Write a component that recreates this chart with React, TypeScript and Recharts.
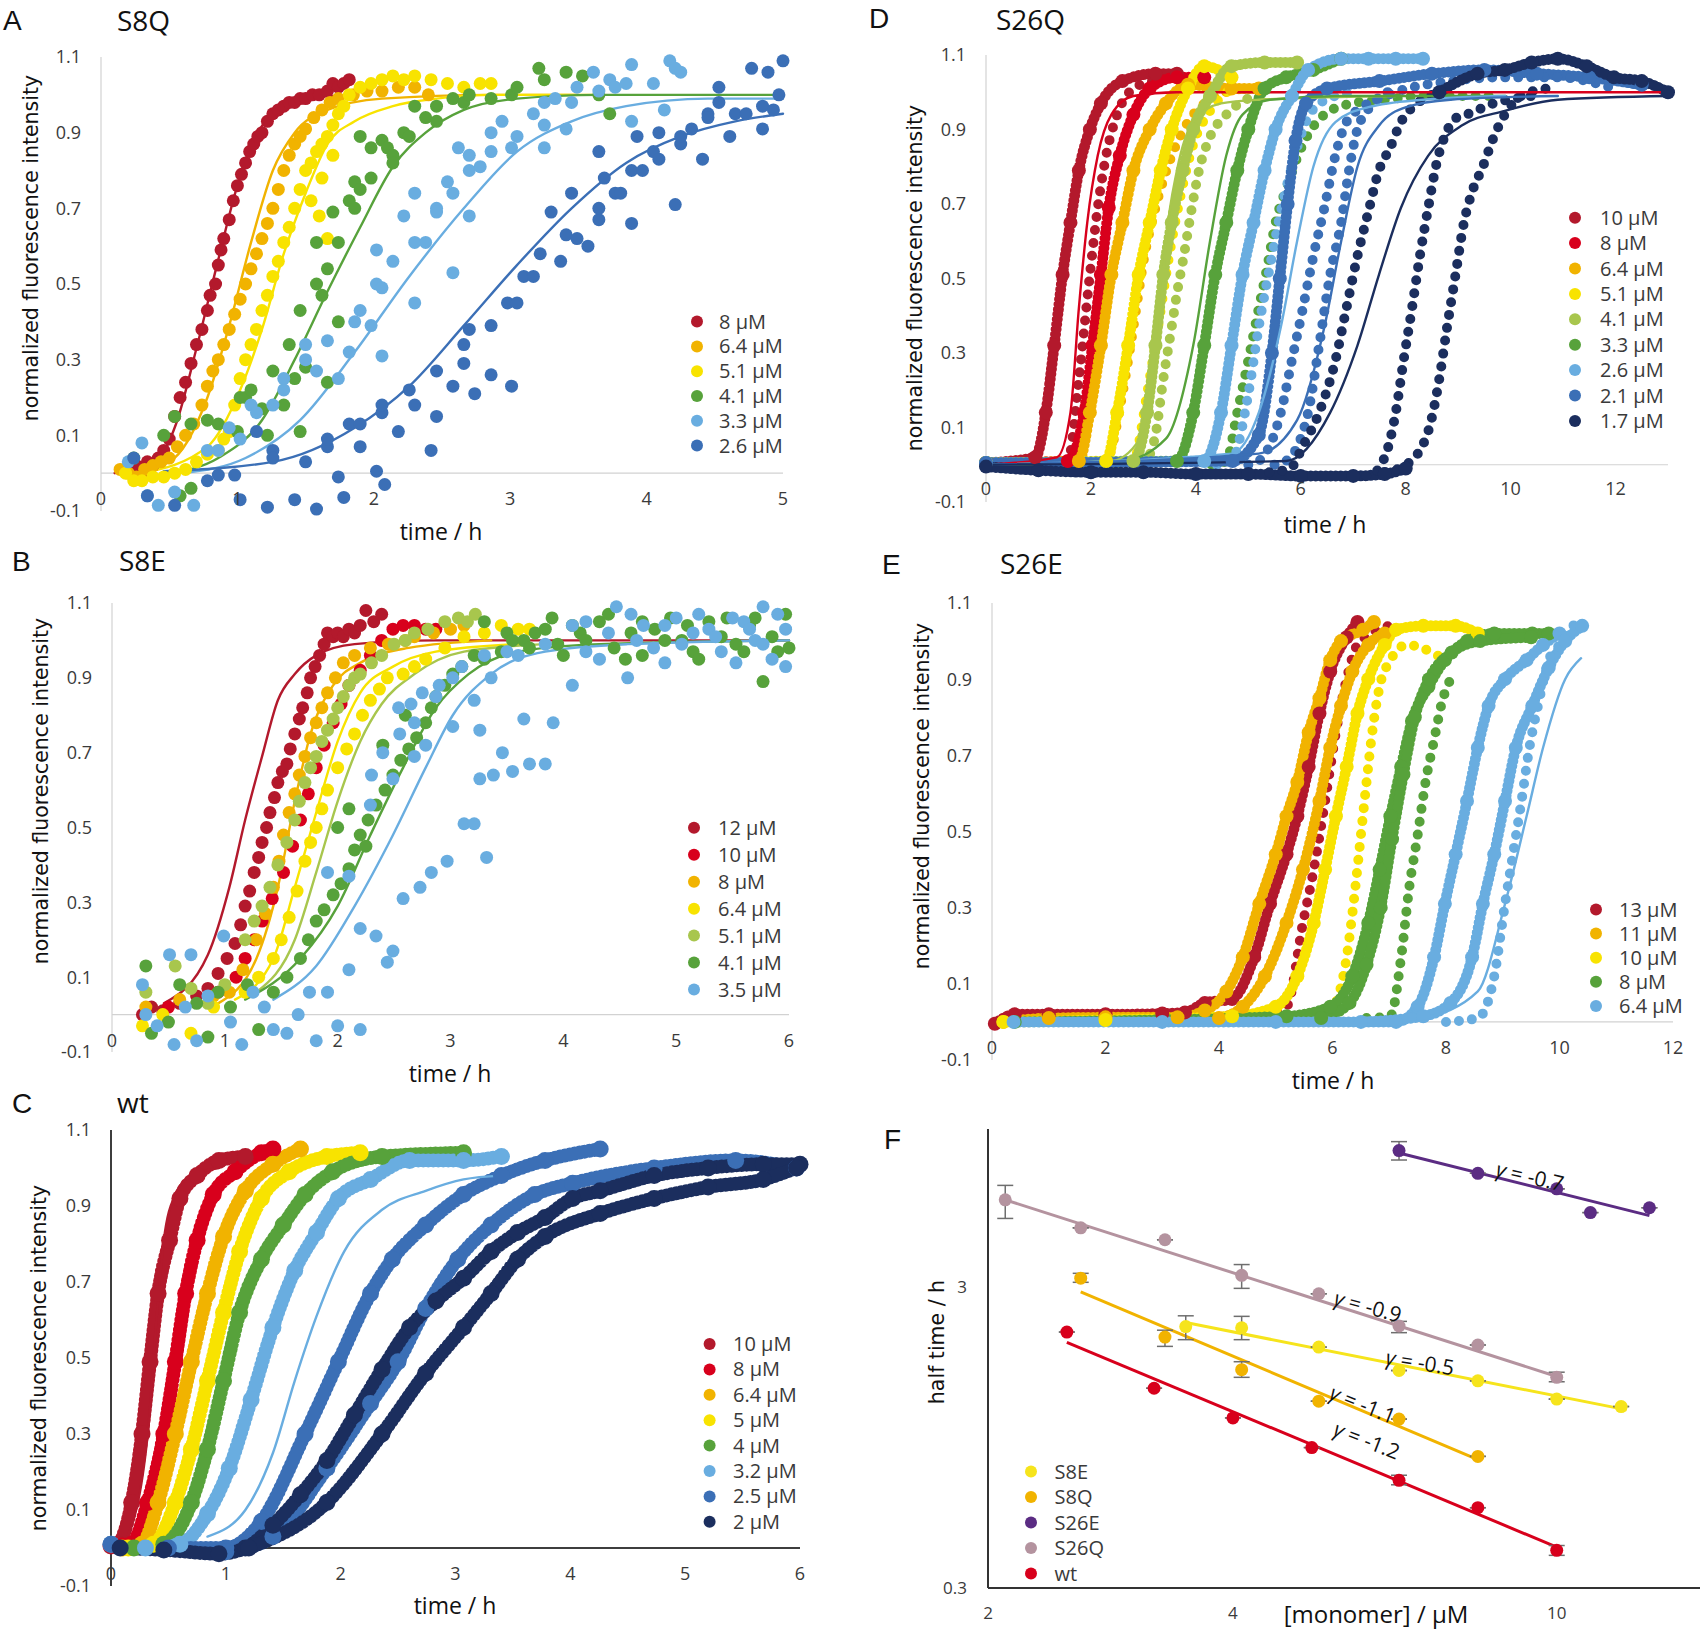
import React from 'react'
import { ComposedChart, Scatter, Line, XAxis, YAxis, ReferenceLine, ErrorBar } from 'recharts'

type Pt = [number, number]

const DRED = '#b3192c'
const RED = '#d8001c'
const ORANGE = '#f1b300'
const YELLOW = '#f8e300'
const LIME = '#a8c64d'
const GREEN = '#57a23b'
const SKY = '#69ade0'
const BLUE = '#3b6fb6'
const NAVY = '#1b2e5e'

const SANS = '"Open Sans", "Noto Sans", sans-serif'
const WIDE = '"DejaVu Sans", Verdana, sans-serif'

const Y_TICKS = [-0.1, 0.1, 0.3, 0.5, 0.7, 0.9, 1.1]

// ---------- A: S8Q ----------
const A_NAMES = ['8 μM', '6.4 μM', '5.1 μM', '4.1 μM', '3.3 μM', '2.6 μM']
const A_COLORS = [DRED, ORANGE, YELLOW, GREEN, SKY, BLUE]
const A8: Pt[] = [[0.18,0.01],[0.22,0],[0.26,0.02],[0.3,-0.01],[0.34,0.03],[0.38,0.02],[0.42,0.04],[0.46,0.06],[0.5,0.09],[0.54,0.15],[0.58,0.2],[0.62,0.24],[0.66,0.29],[0.7,0.34],[0.74,0.38],[0.78,0.43],[0.8,0.47],[0.84,0.5],[0.86,0.55],[0.88,0.59],[0.9,0.62],[0.94,0.67],[0.97,0.72],[1,0.76],[1.03,0.79],[1.06,0.82],[1.09,0.85],[1.12,0.87],[1.15,0.89],[1.18,0.9],[1.22,0.93],[1.26,0.95],[1.3,0.96],[1.34,0.97],[1.38,0.98],[1.42,0.98],[1.46,0.99],[1.5,0.99],[1.55,1],[1.6,1],[1.66,1.01],[1.7,1.03],[1.74,1.02],[1.78,1.03],[1.82,1.04]]
const A64: Pt[] = [[0.14,0.01],[0.2,0],[0.26,-0.01],[0.32,0.01],[0.38,0.02],[0.44,0.03],[0.5,0.04],[0.56,0.07],[0.62,0.1],[0.68,0.13],[0.74,0.18],[0.78,0.23],[0.82,0.27],[0.86,0.3],[0.9,0.34],[0.94,0.38],[0.98,0.42],[1.02,0.46],[1.06,0.5],[1.1,0.54],[1.14,0.58],[1.18,0.62],[1.22,0.66],[1.26,0.7],[1.3,0.75],[1.34,0.8],[1.38,0.84],[1.42,0.87],[1.46,0.89],[1.5,0.91],[1.56,0.94],[1.62,0.96],[1.68,0.98],[1.74,0.99],[1.85,1],[1.95,1.01],[2.06,1.01],[2.18,1.02],[2.3,1.02],[2.4,1]]
const A51: Pt[] = [[0.18,0],[0.24,-0.02],[0.3,-0.02],[0.38,-0.01],[0.46,-0.01],[0.54,0],[0.62,0.01],[0.7,0.03],[0.78,0.05],[0.86,0.06],[0.9,0.09],[0.94,0.11],[0.98,0.18],[1.02,0.25],[1.06,0.3],[1.1,0.34],[1.14,0.38],[1.18,0.43],[1.22,0.47],[1.26,0.52],[1.3,0.56],[1.34,0.61],[1.38,0.65],[1.42,0.7],[1.46,0.75],[1.5,0.8],[1.54,0.72],[1.54,0.82],[1.58,0.85],[1.6,0.68],[1.62,0.78],[1.62,0.87],[1.66,0.62],[1.66,0.89],[1.7,0.84],[1.7,0.92],[1.74,0.95],[1.78,0.97],[1.82,1],[1.9,1.02],[1.98,1.03],[2.06,1.04],[2.14,1.05],[2.22,1.04],[2.3,1.05],[2.42,1.04],[2.54,1.03],[2.66,1.02],[2.78,1.03],[2.86,1.03]]
const A41: Pt[] = [[0.24,0.04],[0.46,0.1],[0.54,0.15],[0.58,-0.06],[0.66,0.13],[0.66,-0.04],[0.78,0.14],[0.86,0.13],[1,0.11],[1.02,0.2],[1.06,0.2],[1.1,0.22],[1.18,0.17],[1.22,0.1],[1.26,0.27],[1.34,0.18],[1.38,0.34],[1.42,0.25],[1.46,0.43],[1.46,0.11],[1.5,0.28],[1.58,0.5],[1.58,0.61],[1.62,0.47],[1.66,0.54],[1.66,0.24],[1.7,0.69],[1.74,0.61],[1.74,0.4],[1.82,0.72],[1.86,0.7],[1.86,0.77],[1.9,0.75],[1.9,0.89],[1.98,0.78],[1.98,0.86],[2.06,0.88],[2.1,0.86],[2.14,0.84],[2.14,0.82],[2.22,0.9],[2.26,0.89],[2.3,0.97],[2.38,0.94],[2.46,0.93],[2.46,0.97],[2.58,0.99],[2.66,0.98],[2.7,1],[2.86,0.99],[3.01,1],[3.05,1.02],[3.21,1.07],[3.25,1.04],[3.41,1.06],[3.53,1.05],[3.65,1],[3.73,0.95]]
const A33: Pt[] = [[0.2,0.03],[0.3,0.08],[0.34,-0.06],[0.42,-0.085],[0.54,-0.05],[0.68,-0.085],[0.78,0.06],[0.86,0.06],[0.94,0.12],[1.02,0.09],[1.1,0.18],[1.14,0.16],[1.26,0.18],[1.34,0.22],[1.34,0.25],[1.5,0.3],[1.5,0.34],[1.58,0.27],[1.66,0.35],[1.74,0.25],[1.82,0.32],[1.86,0.4],[1.9,0.43],[1.98,0.39],[2.02,0.5],[2.02,0.59],[2.06,0.49],[2.06,0.31],[2.14,0.56],[2.22,0.68],[2.3,0.74],[2.3,0.45],[2.3,0.61],[2.38,0.61],[2.46,0.7],[2.46,0.69],[2.54,0.77],[2.58,0.53],[2.58,0.74],[2.62,0.86],[2.7,0.84],[2.7,0.68],[2.7,0.8],[2.78,0.81],[2.86,0.9],[2.86,0.85],[2.94,0.93],[3.01,0.86],[3.05,0.89],[3.17,0.95],[3.25,0.86],[3.25,0.98],[3.25,0.92],[3.33,0.99],[3.41,0.91],[3.45,0.98],[3.49,1.02],[3.61,1.06],[3.65,1.01],[3.73,1.04],[3.77,1.02],[3.85,1.03],[3.89,1.08],[3.89,0.93],[4.05,1.03],[4.13,0.96],[4.17,1.09],[4.21,1.07],[4.25,1.06]]
const A26: Pt[] = [[0.24,0.04],[0.34,-0.06],[0.54,-0.085],[0.78,-0.02],[0.86,-0.005],[0.98,-0.005],[1.02,-0.07],[1.14,0.11],[1.22,-0.09],[1.26,0.06],[1.26,0.04],[1.42,-0.07],[1.5,0.03],[1.58,-0.095],[1.66,0.07],[1.66,0.09],[1.74,-0.01],[1.78,-0.064],[1.82,0.13],[1.9,0.07],[1.9,0.13],[2.02,0.005],[2.06,0.16],[2.06,0.18],[2.08,-0.03],[2.18,0.11],[2.26,0.22],[2.3,0.18],[2.42,0.06],[2.46,0.15],[2.46,0.27],[2.58,0.23],[2.66,0.29],[2.66,0.34],[2.7,0.38],[2.74,0.21],[2.86,0.26],[2.86,0.39],[2.98,0.45],[3.01,0.23],[3.05,0.45],[3.1,0.52],[3.17,0.52],[3.22,0.58],[3.3,0.69],[3.37,0.56],[3.41,0.63],[3.45,0.74],[3.49,0.62],[3.57,0.6],[3.65,0.67],[3.65,0.7],[3.65,0.85],[3.69,0.78],[3.77,0.74],[3.81,0.74],[3.89,0.66],[3.89,0.8],[3.93,0.89],[3.97,0.8],[4.05,0.85],[4.09,0.83],[4.09,0.9],[4.21,0.71],[4.25,0.87],[4.25,0.89],[4.33,0.91],[4.41,0.83],[4.45,0.95],[4.45,0.94],[4.53,0.98],[4.53,1.02],[4.61,0.89],[4.65,0.95],[4.73,0.95],[4.77,1.07],[4.85,0.91],[4.85,0.97],[4.89,1.06],[4.93,0.96],[4.97,1],[5,1.09]]
const A8_FIT: Pt[] = [[0.1,0],[0.4,0.03],[0.55,0.13],[0.7,0.33],[0.85,0.55],[1,0.76],[1.15,0.9],[1.3,0.96],[1.5,0.99],[1.85,1]]
const A64_FIT: Pt[] = [[0.18,0],[0.5,0.03],[0.78,0.2],[0.94,0.39],[1.1,0.61],[1.26,0.8],[1.42,0.9],[1.66,0.96],[2.06,0.99],[2.86,1],[3.5,1]]
const A51_FIT: Pt[] = [[0.3,0],[0.78,0.07],[1.02,0.22],[1.18,0.38],[1.34,0.58],[1.5,0.74],[1.66,0.87],[1.86,0.93],[2.14,0.97],[2.46,0.99],[2.86,1],[3.6,1]]
const A41_FIT: Pt[] = [[0.5,0],[0.86,0.04],[1.18,0.14],[1.42,0.3],[1.66,0.48],[1.9,0.65],[2.14,0.81],[2.38,0.9],[2.66,0.96],[3.05,0.99],[3.65,1],[5,1]]
const A33_FIT: Pt[] = [[0.6,0],[1.06,0.04],[1.46,0.14],[1.86,0.32],[2.26,0.52],[2.66,0.7],[3.05,0.85],[3.45,0.93],[3.85,0.97],[4.45,0.99],[5,0.99]]
const A26_FIT: Pt[] = [[0.46,0.005],[1.26,0.03],[1.86,0.12],[2.26,0.23],[2.66,0.39],[3.05,0.55],[3.45,0.7],[3.85,0.82],[4.25,0.89],[4.65,0.93],[5,0.95]]

// ---------- B: S8E ----------
const B_NAMES = ['12 μM', '10 μM', '8 μM', '6.4 μM', '5.1 μM', '4.1 μM', '3.5 μM']
const B_COLORS = [DRED, RED, ORANGE, YELLOW, LIME, GREEN, SKY]
const B12: Pt[] = [[0.27,0],[0.35,0.02],[0.45,0.01],[0.6,0.03],[0.75,0.05],[0.85,0.07],[0.94,0.11],[1.02,0.15],[1.09,0.19],[1.14,0.24],[1.18,0.29],[1.22,0.33],[1.26,0.38],[1.3,0.42],[1.33,0.46],[1.37,0.5],[1.4,0.54],[1.44,0.58],[1.47,0.62],[1.51,0.65],[1.55,0.67],[1.58,0.71],[1.62,0.75],[1.66,0.79],[1.69,0.82],[1.73,0.86],[1.76,0.9],[1.8,0.93],[1.84,0.96],[1.88,0.99],[1.91,1.02],[1.96,1.01],[2,1.02],[2.05,1.01],[2.1,1.03],[2.15,1.02],[2.2,1.04],[2.25,1.08],[2.32,1.05],[2.39,1.07]]
const B10: Pt[] = [[0.5,0.02],[0.94,0.06],[1.1,0.1],[1.18,0.15],[1.26,0.2],[1.33,0.25],[1.42,0.31],[1.52,0.38],[1.6,0.45],[1.67,0.52],[1.74,0.59],[1.81,0.66],[1.88,0.72],[1.96,0.78],[2.03,0.83],[2.1,0.88],[2.2,0.92],[2.29,0.96],[2.39,1],[2.49,1.03],[2.58,1.04],[2.68,1.04],[2.78,1.03],[2.87,1.03]]
const B8: Pt[] = [[0.3,0.02],[0.6,0.04],[0.9,0.05],[1.04,0.06],[1.16,0.12],[1.28,0.2],[1.36,0.27],[1.43,0.34],[1.48,0.41],[1.52,0.48],[1.57,0.54],[1.62,0.59],[1.66,0.64],[1.71,0.69],[1.76,0.74],[1.81,0.78],[1.86,0.82],[1.91,0.86],[1.98,0.9],[2.05,0.94],[2.15,0.96],[2.29,0.98],[2.45,0.99],[2.6,1],[2.68,1.01],[2.85,1.02],[3,1.03],[3.12,1.04]]
const B64: Pt[] = [[0.27,-0.03],[0.45,0],[0.7,-0.05],[0.9,0.02],[1.18,0.06],[1.3,0.1],[1.43,0.15],[1.5,0.2],[1.57,0.26],[1.64,0.33],[1.71,0.41],[1.76,0.46],[1.81,0.5],[1.86,0.55],[1.91,0.6],[2,0.66],[2.08,0.71],[2.15,0.75],[2.22,0.8],[2.29,0.84],[2.37,0.87],[2.44,0.9],[2.58,0.91],[2.68,0.93],[2.78,0.95],[2.95,0.98],[3.12,1.01],[3.3,1.02],[3.45,1.04],[3.6,1.03],[3.7,1.03]]
const B51: Pt[] = [[0.3,0.06],[0.56,0.13],[0.7,0.07],[0.85,0.03],[1,0.08],[1.18,0.2],[1.26,0.25],[1.33,0.29],[1.4,0.34],[1.47,0.4],[1.55,0.46],[1.62,0.52],[1.66,0.57],[1.71,0.62],[1.76,0.66],[1.81,0.69],[1.86,0.73],[1.91,0.76],[1.96,0.79],[2,0.82],[2.05,0.85],[2.1,0.88],[2.15,0.9],[2.2,0.91],[2.3,0.94],[2.39,0.96],[2.5,0.99],[2.6,1],[2.68,1.02],[2.8,1.03],[2.95,1.05],[3.07,1.06],[3.15,1.05],[3.22,1.07]]
const B41: Pt[] = [[0.3,0.13],[0.35,-0.05],[0.5,-0.02],[0.6,0.08],[0.75,0.03],[0.85,-0.06],[0.94,0.06],[1.05,0.02],[1.2,0.08],[1.3,-0.04],[1.43,0.06],[1.55,0.1],[1.67,0.15],[1.74,0.2],[1.81,0.25],[1.88,0.28],[1.96,0.32],[2,0.5],[2.03,0.35],[2.1,0.39],[2.1,0.55],[2.15,0.44],[2.2,0.48],[2.25,0.45],[2.27,0.52],[2.34,0.56],[2.4,0.72],[2.42,0.6],[2.49,0.64],[2.56,0.68],[2.6,0.8],[2.63,0.71],[2.7,0.74],[2.78,0.78],[2.83,0.82],[2.87,0.85],[2.95,0.88],[3.02,0.91],[3.1,0.93],[3.21,0.96],[3.3,0.95],[3.3,1.05],[3.45,0.97],[3.5,1.02],[3.55,1],[3.65,1],[3.7,0.98],[3.75,1.02],[3.84,1.03],[3.9,1.06],[3.95,0.99],[4,0.96],[4.08,1.04],[4.15,1.02],[4.2,1],[4.32,1.05],[4.4,1.07],[4.45,0.98],[4.55,0.95],[4.6,1.02],[4.7,0.96],[4.7,1.05],[4.81,1.03],[4.9,1],[4.95,1.06],[5.05,1],[5.1,1.04],[5.15,0.97],[5.2,0.95],[5.29,1.05],[5.4,1.01],[5.45,1.06],[5.53,0.99],[5.6,0.97],[5.65,1.04],[5.7,1.06],[5.77,0.89],[5.85,1.01],[5.9,0.97],[5.97,1.07],[6,0.98]]
const B35: Pt[] = [[0.27,0.08],[0.3,0],[0.4,-0.03],[0.51,0.16],[0.55,-0.08],[0.65,0.02],[0.7,0.16],[0.75,-0.07],[0.85,0.05],[0.99,0.21],[1.05,-0.02],[1.15,-0.08],[1.25,0.06],[1.35,0.02],[1.43,-0.04],[1.55,-0.05],[1.65,0],[1.75,0.06],[1.81,-0.07],[1.91,0.06],[1.91,0.38],[2,-0.03],[2.1,0.12],[2.1,0.37],[2.2,-0.04],[2.2,0.23],[2.29,0.56],[2.3,0.64],[2.34,0.21],[2.4,0.7],[2.44,0.14],[2.49,0.17],[2.49,0.63],[2.54,0.82],[2.55,0.75],[2.58,0.31],[2.65,0.83],[2.68,0.69],[2.68,0.78],[2.73,0.34],[2.75,0.86],[2.78,0.72],[2.83,0.38],[2.87,0.85],[2.9,0.88],[2.97,0.41],[3.02,0.77],[3.02,0.9],[3.1,0.93],[3.12,0.51],[3.21,0.51],[3.21,0.84],[3.26,0.76],[3.26,0.63],[3.3,0.96],[3.32,0.42],[3.36,0.9],[3.38,0.64],[3.46,0.7],[3.5,0.97],[3.55,0.65],[3.6,0.96],[3.65,0.79],[3.7,0.67],[3.84,0.67],[3.84,0.99],[3.91,0.78],[4.08,0.88],[4.08,1.04],[4.2,0.97],[4.2,1.05],[4.32,0.95],[4.4,1.02],[4.47,1.09],[4.57,0.9],[4.6,1.07],[4.65,1],[4.71,1.04],[4.8,0.98],[4.9,0.94],[4.9,1.04],[5,1.06],[5.05,0.99],[5.15,1.02],[5.2,1.07],[5.29,1.03],[5.35,1.01],[5.4,0.97],[5.5,1.06],[5.53,0.94],[5.6,1.05],[5.65,1.03],[5.7,1],[5.77,1.09],[5.77,0.99],[5.85,0.95],[5.9,1.07],[5.97,0.93],[5.97,1.03]]
const B12_FIT: Pt[] = [[0.46,0.03],[0.85,0.16],[1.04,0.34],[1.18,0.52],[1.33,0.69],[1.47,0.84],[1.62,0.91],[1.81,0.96],[2.15,0.99],[2.87,1],[6,1]]
const B8_FIT: Pt[] = [[0.94,0.03],[1.28,0.15],[1.47,0.34],[1.62,0.57],[1.76,0.75],[1.96,0.88],[2.2,0.94],[2.63,0.98],[3.36,1]]
const B64_FIT: Pt[] = [[1.09,0.04],[1.43,0.15],[1.62,0.34],[1.81,0.54],[2,0.73],[2.2,0.86],[2.49,0.93],[2.87,0.97],[3.6,0.99]]
const B51_FIT: Pt[] = [[1.28,0.06],[1.62,0.2],[1.81,0.38],[2,0.57],[2.2,0.73],[2.39,0.83],[2.68,0.91],[3.12,0.97],[3.84,0.99]]
const B41_FIT: Pt[] = [[1.18,0.04],[1.67,0.15],[2,0.29],[2.29,0.48],[2.58,0.66],[2.87,0.82],[3.16,0.91],[3.6,0.97],[4.32,0.99],[6,1]]
const B35_FIT: Pt[] = [[1.43,0.04],[1.81,0.13],[2.15,0.29],[2.49,0.48],[2.78,0.66],[3.02,0.8],[3.36,0.91],[3.84,0.97],[4.57,0.99],[6,1]]

// ---------- C: wt ----------
const C_NAMES = ['10 μM', '8 μM', '6.4 μM', '5 μM', '4 μM', '3.2 μM', '2.5 μM', '2 μM']
const C_COLORS = [DRED, RED, ORANGE, YELLOW, GREEN, SKY, BLUE, NAVY]
const C10: Pt[] = [[0,0.005],[0.06,0.01],[0.18,0.12],[0.27,0.3],[0.34,0.49],[0.41,0.67],[0.51,0.81],[0.6,0.92],[0.75,0.98],[0.94,1.02],[1.17,1.03]]
const C8: Pt[] = [[0.1,0.005],[0.18,0.01],[0.32,0.12],[0.46,0.3],[0.56,0.49],[0.65,0.67],[0.75,0.81],[0.89,0.93],[1.08,0.99],[1.31,1.04],[1.41,1.05]]
const C64: Pt[] = [[0.1,0],[0.27,0.01],[0.41,0.12],[0.56,0.3],[0.7,0.49],[0.84,0.67],[0.98,0.82],[1.17,0.94],[1.41,1.01],[1.65,1.05]]
const C5: Pt[] = [[0.15,0],[0.37,0.01],[0.56,0.12],[0.7,0.26],[0.84,0.44],[0.98,0.62],[1.12,0.78],[1.31,0.92],[1.55,0.99],[1.88,1.03],[2.17,1.04]]
const C4: Pt[] = [[0.2,0],[0.46,0.01],[0.7,0.12],[0.84,0.26],[0.98,0.44],[1.12,0.62],[1.31,0.76],[1.5,0.85],[1.69,0.93],[1.93,0.99],[2.36,1.03],[3.07,1.04]]
const C32: Pt[] = [[0,0.01],[0.3,0],[0.6,0.01],[0.84,0.09],[1.03,0.21],[1.22,0.39],[1.41,0.58],[1.6,0.73],[1.79,0.83],[1.98,0.92],[2.26,0.97],[2.6,1.02],[3.07,1.02],[3.4,1.03]]
const C25A: Pt[] = [[0,0.01],[0.5,0],[1,0],[1.31,0.07],[1.69,0.3],[1.98,0.49],[2.26,0.67],[2.45,0.76],[2.74,0.85],[3.07,0.93],[3.4,0.98],[3.78,1.02],[4.26,1.05]]
const C25B: Pt[] = [[1,-0.01],[1.41,0.03],[1.88,0.21],[2.26,0.38],[2.5,0.49],[2.74,0.63],[3.02,0.76],[3.31,0.85],[3.69,0.93],[4.02,0.96],[4.73,1],[5.44,1.02],[5.97,1]]
const C2A: Pt[] = [[0.08,0],[0.46,-0.005],[0.94,-0.015],[1.17,0],[1.41,0.06],[1.65,0.14],[1.88,0.23],[2.12,0.35],[2.36,0.47],[2.6,0.58],[2.83,0.65],[3.07,0.71],[3.31,0.78],[3.54,0.83],[3.78,0.87],[4.02,0.92],[4.26,0.94],[4.73,0.98],[5.2,1],[5.68,1.01],[6,1.01]]
const C2B: Pt[] = [[1.2,0],[1.88,0.12],[2.36,0.3],[2.74,0.46],[3.07,0.58],[3.31,0.67],[3.54,0.76],[3.78,0.82],[4.26,0.88],[4.73,0.92],[5.2,0.95],[5.68,0.97],[5.97,1]]
const C10_FIT: Pt[] = [[0.13,0.02],[0.32,0.3],[0.39,0.58],[0.46,0.81],[0.56,0.93],[0.7,0.98],[0.94,1]]
const C32_FIT: Pt[] = [[0.84,0.03],[1.17,0.1],[1.41,0.25],[1.6,0.44],[1.79,0.61],[2.03,0.78],[2.36,0.89],[2.74,0.94],[3.07,0.97],[3.4,0.98]]

// ---------- D: S26Q ----------
const D_NAMES = ['10 μM', '8 μM', '6.4 μM', '5.1 μM', '4.1 μM', '3.3 μM', '2.6 μM', '2.1 μM', '1.7 μM']
const D_COLORS = [DRED, RED, ORANGE, YELLOW, LIME, GREEN, SKY, BLUE, NAVY]
const D10A: Pt[] = [[0,0.005],[0.94,0.02],[1.14,0.14],[1.3,0.32],[1.46,0.51],[1.61,0.65],[1.77,0.79],[1.98,0.9],[2.19,0.97],[2.6,1.03],[3.23,1.05],[3.64,1.05]]
const D10B: Pt[] = [[1.3,0],[1.56,0.01],[1.77,0.23],[1.98,0.51],[2.13,0.69],[2.29,0.83],[2.5,0.94],[2.81,1.01],[3.2,1.03]]
const D8: Pt[] = [[0,0.005],[1.56,0.01],[1.87,0.14],[2.03,0.32],[2.19,0.51],[2.34,0.69],[2.55,0.83],[2.81,0.94],[3.12,1.01],[3.64,1.04],[4.16,1.04]]
const D64A: Pt[] = [[0,0.005],[1.77,0.01],[1.98,0.14],[2.19,0.32],[2.39,0.51],[2.6,0.65],[2.81,0.79],[3.12,0.9],[3.43,0.97],[3.85,1.02],[4.68,1.01],[5.2,1.01]]
const D64B: Pt[] = [[2,0],[2.29,0.01],[2.6,0.19],[2.81,0.37],[3.02,0.56],[3.23,0.69],[3.54,0.83],[3.85,0.92],[4.27,0.98],[4.89,1.01]]
const D51A: Pt[] = [[0,0.005],[2.29,0.01],[2.5,0.14],[2.71,0.32],[2.91,0.51],[3.12,0.65],[3.33,0.79],[3.54,0.9],[3.85,1.01],[4.16,1.07],[4.68,1.04]]
const D51B: Pt[] = [[2.5,0],[2.81,0.01],[3.07,0.19],[3.28,0.37],[3.49,0.56],[3.69,0.71],[3.95,0.86],[4.27,0.95],[4.68,1.01]]
const D41A: Pt[] = [[0,0.005],[2.81,0.01],[3.07,0.14],[3.23,0.32],[3.38,0.51],[3.54,0.65],[3.75,0.79],[3.95,0.9],[4.27,0.99],[4.68,1.07],[5.31,1.08],[5.93,1.08]]
const D41B: Pt[] = [[3,0],[3.23,0.08],[3.38,0.23],[3.54,0.37],[3.64,0.46],[3.77,0.56],[3.9,0.67],[4.06,0.79],[4.27,0.88],[4.58,0.94],[5.1,0.99]]
const D33A: Pt[] = [[0,0.005],[3.64,0.01],[3.95,0.14],[4.16,0.32],[4.37,0.51],[4.58,0.65],[4.79,0.79],[5,0.9],[5.31,1.01],[5.72,1.04],[6.24,1.06],[6.77,1.09]]
const D33B: Pt[] = [[4.3,0],[4.58,0.01],[4.79,0.14],[5,0.28],[5.2,0.42],[5.36,0.53],[5.52,0.65],[5.72,0.74],[6.04,0.86],[6.45,0.94],[6.97,0.97],[7.6,0.98],[8.4,0.99],[9.6,0.99]]
const D26A: Pt[] = [[0,0.005],[4.16,0.01],[4.48,0.14],[4.68,0.32],[4.89,0.51],[5.1,0.65],[5.31,0.79],[5.52,0.9],[5.83,0.99],[6.14,1.06],[6.77,1.09],[7.29,1.09],[7.81,1.09],[8.33,1.09]]
const D26B: Pt[] = [[4.4,0],[4.68,0.01],[5,0.19],[5.2,0.37],[5.41,0.53],[5.62,0.68],[5.83,0.8],[6.04,0.9],[6.35,0.97],[7,1]]
const D21A: Pt[] = [[0,0.005],[4.7,0.01],[5.2,0.08],[5.45,0.3],[5.6,0.5],[5.75,0.7],[5.9,0.87],[6.1,0.97],[6.5,1.01],[7.5,1.03],[8.5,1.05],[9.5,1.06],[10.5,1.05],[11.5,1.04],[12.5,1.02]]
const D21B: Pt[] = [[5,0],[5.2,0.01],[5.62,0.14],[5.83,0.28],[6.04,0.42],[6.24,0.56],[6.45,0.69],[6.66,0.83],[6.87,0.92],[7.18,0.96],[7.81,1],[8.85,1.03],[9.89,1.04],[10.9,1.04],[11.97,1.01]]
const D21C: Pt[] = [[5.5,0],[5.72,0.01],[6.14,0.14],[6.35,0.32],[6.56,0.51],[6.77,0.65],[6.92,0.79],[7.08,0.9],[7.39,0.97],[7.81,1.01]]
const D17BASE: Pt[] = [[0,-0.005],[1,-0.015],[2,-0.02],[3,-0.02],[4,-0.025],[5,-0.025],[6,-0.03],[7,-0.03],[7.6,-0.025],[8,-0.01]]
const D17A: Pt[] = [[5.4,-0.02],[5.8,-0.01],[6.04,0.05],[6.35,0.14],[6.66,0.28],[6.87,0.42],[7.08,0.56],[7.29,0.68],[7.49,0.79],[7.7,0.85],[7.91,0.92],[8.22,0.97],[8.64,1]]
const D17B: Pt[] = [[7,-0.03],[7.29,-0.03],[7.6,0.02],[7.81,0.14],[7.96,0.28],[8.12,0.42],[8.27,0.56],[8.43,0.69],[8.59,0.81],[8.74,0.88],[8.95,0.93],[9.16,0.94],[9.68,0.97],[10.4,0.99]]
const D17C: Pt[] = [[7.6,-0.02],[8.01,0],[8.43,0.09],[8.64,0.23],[8.79,0.37],[8.95,0.51],[9.11,0.65],[9.26,0.73],[9.47,0.8],[9.68,0.88],[9.89,0.94],[10.2,0.99],[10.7,1.01]]
const D17TOP: Pt[] = [[8.64,1],[9.37,1.05],[9.89,1.06],[10.4,1.08],[10.9,1.09],[11.45,1.07],[11.97,1.04],[12.5,1.03],[13,1]]
const D8_FIT: Pt[] = [[0,0],[1.35,0.02],[1.61,0.14],[1.77,0.42],[1.93,0.65],[2.13,0.83],[2.39,0.94],[2.81,0.99],[3.64,1],[13,1]]
const D41_FIT: Pt[] = [[0,0],[2.39,0.01],[3.02,0.09],[3.28,0.32],[3.43,0.6],[3.64,0.79],[3.95,0.92],[4.48,0.97],[5.2,0.98],[7.8,0.99]]
const D33_FIT: Pt[] = [[0,0],[2.6,0.01],[3.43,0.07],[3.95,0.32],[4.27,0.6],[4.58,0.83],[4.89,0.94],[5.41,0.98],[6.77,0.99],[9.9,0.99]]
const D26_FIT: Pt[] = [[0,0],[4.68,0.03],[5.2,0.14],[5.62,0.37],[5.93,0.6],[6.24,0.8],[6.66,0.92],[7.29,0.96],[8.33,0.98],[9.9,0.99]]
const D21_FIT: Pt[] = [[0,0],[5.2,0.03],[5.93,0.12],[6.45,0.37],[6.77,0.6],[7.08,0.8],[7.49,0.91],[8.01,0.96],[8.85,0.98],[10.9,0.99]]
const D17_FIT: Pt[] = [[0,0],[5.72,0.01],[6.56,0.14],[7.08,0.32],[7.49,0.51],[7.91,0.69],[8.43,0.83],[9.06,0.91],[9.89,0.95],[10.9,0.98],[13,0.99]]

// ---------- E: S26E ----------
const E_NAMES = ['13 μM', '11 μM', '10 μM', '8 μM', '6.4 μM']
const E_COLORS = [DRED, ORANGE, YELLOW, GREEN, SKY]
const E13A: Pt[] = [[0.05,-0.005],[0.4,0.02],[1,0.02],[2,0.02],[3,0.022],[3.4,0.025],[3.75,0.05],[4.23,0.06],[4.62,0.17],[4.9,0.31],[5.19,0.44],[5.38,0.54],[5.58,0.67],[5.77,0.81],[5.96,0.92],[6.25,1.01],[6.44,1.05]]
const E13B: Pt[] = [[4.8,0.02],[5.19,0.04],[5.48,0.26],[5.67,0.4],[5.87,0.58],[6.06,0.76],[6.25,0.9],[6.44,0.99],[7,1.04]]
const E11A: Pt[] = [[0.2,0],[1,0.01],[2,0.012],[3.27,0.012],[3.75,0.03],[4.13,0.08],[4.42,0.17],[4.71,0.31],[5,0.44],[5.19,0.54],[5.38,0.63],[5.58,0.76],[5.77,0.85],[5.96,0.95],[6.15,1],[6.54,1.03],[6.73,1.05]]
const E11B: Pt[] = [[4,0.01],[4.42,0.04],[4.81,0.12],[5.19,0.26],[5.48,0.4],[5.77,0.58],[5.96,0.72],[6.15,0.83],[6.35,0.92],[6.63,0.99],[6.92,1.02]]
const E10A: Pt[] = [[0.2,0],[2,0.005],[4.23,0.015],[5,0.04],[5.38,0.12],[5.67,0.26],[5.87,0.4],[6.06,0.54],[6.25,0.67],[6.44,0.81],[6.63,0.9],[6.92,0.99],[7.12,1.03],[7.6,1.04],[8.17,1.04],[8.56,1.02]]
const E10B: Pt[] = [[5.5,0.01],[5.96,0.03],[6.25,0.17],[6.4,0.35],[6.5,0.49],[6.6,0.63],[6.7,0.76],[6.83,0.88],[7.02,0.95],[7.31,0.99],[7.88,0.96]]
const E8A: Pt[] = [[0.4,0],[5.19,0.015],[5.96,0.04],[6.35,0.12],[6.63,0.26],[6.83,0.4],[7.02,0.54],[7.21,0.67],[7.4,0.79],[7.69,0.88],[7.98,0.95],[8.37,1],[8.85,1.02],[9.52,1.02],[9.81,1.02]]
const E8B: Pt[] = [[5.8,0.01],[6.3,0.05],[6.6,0.15],[6.85,0.3],[7.05,0.48],[7.25,0.65],[7.45,0.8],[7.7,0.9],[8.1,0.97],[8.6,1],[9.5,1.01]]
const E8C: Pt[] = [[6.6,0.01],[7.02,0.015],[7.21,0.17],[7.35,0.35],[7.5,0.49],[7.64,0.63],[7.79,0.74],[7.93,0.84],[8.08,0.9]]
const E64A: Pt[] = [[0.38,0],[3,0],[5,0],[7.12,0],[7.5,0.04],[7.79,0.17],[7.98,0.31],[8.17,0.44],[8.37,0.58],[8.56,0.72],[8.75,0.83],[9.04,0.9],[9.42,0.95],[9.71,0.99],[10,1.02]]
const E64B: Pt[] = [[6.5,0],[7.6,0.015],[8.08,0.05],[8.46,0.17],[8.65,0.31],[8.85,0.44],[9.04,0.58],[9.23,0.72],[9.52,0.83],[9.81,0.93],[10.1,1],[10.4,1.04]]
const E64C: Pt[] = [[8,0],[8.56,0.01],[8.85,0.12],[9.04,0.31],[9.18,0.44],[9.33,0.58],[9.47,0.72],[9.62,0.83],[9.81,0.95],[10,0.99],[10.29,1.05]]
const E64_FIT: Pt[] = [[7.6,0.01],[8.56,0.08],[9.04,0.31],[9.42,0.54],[9.71,0.72],[10.1,0.9],[10.38,0.955]]

// ---------- F: half times ----------
const F_NAMES = ['S8E', 'S8Q', 'S26E', 'S26Q', 'wt']
const F_COLORS = ['#f6e41c', ORANGE, '#5b2c83', '#b4939f', RED]
const S8E_C = [3.5, 4.1, 5.1, 6.4, 8, 10, 12]
const S8E_H = [2.21, 2.19, 1.89, 1.58, 1.46, 1.27, 1.2]
const S8E_ERR: (Pt | null)[] = [[2.0, 2.4], [2.0, 2.39], null, null, null, null, null]
const S8Q_C = [2.6, 3.3, 4.1, 5.1, 6.4, 8]
const S8Q_H = [3.2, 2.04, 1.59, 1.25, 1.09, 0.82]
const S8Q_ERR: (Pt | null)[] = [[3.1, 3.32], [1.9, 2.15], [1.5, 1.69], null, null, null]
const S26E_C = [6.4, 8, 10, 11, 13]
const S26E_H = [8.48, 7.13, 6.33, 5.28, 5.48]
const S26E_ERR: (Pt | null)[] = [[7.89, 9.08], null, null, null, null]
const S26Q_C = [2.1, 2.6, 3.3, 4.1, 5.1, 6.4, 8, 10]
const S26Q_H = [5.82, 4.7, 4.29, 3.27, 2.84, 2.22, 1.92, 1.5]
const S26Q_ERR: (Pt | null)[] = [[5.05, 6.5], null, null, [2.96, 3.55], null, [2.11, 2.3], null, [1.45, 1.56]]
const WT_C = [2.5, 3.2, 4, 5, 6.4, 8, 10]
const WT_H = [2.12, 1.38, 1.1, 0.877, 0.683, 0.554, 0.4]
const WT_ERR: (Pt | null)[] = [null, null, null, null, [0.66, 0.71], null, [0.385, 0.415]]
const S8E_FIT: Pt[] = [[3.5, 2.28], [12.19, 1.17]]
const S8Q_FIT: Pt[] = [[2.6, 2.88], [8, 0.8]]
const S26E_FIT: Pt[] = [[6.4, 8.32], [13, 5.16]]
const S26Q_FIT: Pt[] = [[2.1, 5.82], [10, 1.51]]
const WT_FIT: Pt[] = [[2.5, 1.96], [10, 0.41]]
const GAMMAS = ['-0.7', '-0.9', '-0.5', '-1.1', '-1.2']

type Kind = 'scatter' | 'band' | 'dots' | 'fit'
type Series = { pts: Pt[]; color: string; kind: Kind }
const S = (pts: Pt[], color: string, kind: Kind): Series => ({ pts, color, kind })

const A_SERIES: Series[] = [
  S(A8, DRED, 'scatter'), S(A64, ORANGE, 'scatter'), S(A51, YELLOW, 'scatter'), S(A41, GREEN, 'scatter'), S(A33, SKY, 'scatter'), S(A26, BLUE, 'scatter'),
  S(A8_FIT, DRED, 'fit'), S(A64_FIT, ORANGE, 'fit'), S(A51_FIT, YELLOW, 'fit'), S(A41_FIT, GREEN, 'fit'), S(A33_FIT, SKY, 'fit'), S(A26_FIT, BLUE, 'fit'),
]
const B_SERIES: Series[] = [
  S(B12, DRED, 'scatter'), S(B10, RED, 'scatter'), S(B8, ORANGE, 'scatter'), S(B64, YELLOW, 'scatter'), S(B51, LIME, 'scatter'), S(B41, GREEN, 'scatter'), S(B35, SKY, 'scatter'),
  S(B12_FIT, DRED, 'fit'), S(B8_FIT, ORANGE, 'fit'), S(B64_FIT, YELLOW, 'fit'), S(B51_FIT, LIME, 'fit'), S(B41_FIT, GREEN, 'fit'), S(B35_FIT, SKY, 'fit'),
]
const C_SERIES: Series[] = [
  S(C10, DRED, 'band'), S(C8, RED, 'band'), S(C64, ORANGE, 'band'), S(C5, YELLOW, 'band'), S(C4, GREEN, 'band'), S(C32, SKY, 'band'),
  S(C25A, BLUE, 'band'), S(C25B, BLUE, 'band'), S(C2A, NAVY, 'band'), S(C2B, NAVY, 'band'),
  S(C10_FIT, DRED, 'fit'), S(C32_FIT, SKY, 'fit'),
]
const D_SERIES: Series[] = [
  S(D10A, DRED, 'band'), S(D10B, DRED, 'dots'), S(D8, RED, 'band'), S(D64A, ORANGE, 'band'), S(D64B, ORANGE, 'dots'),
  S(D51A, YELLOW, 'band'), S(D51B, YELLOW, 'dots'), S(D41A, LIME, 'band'), S(D41B, LIME, 'dots'),
  S(D33A, GREEN, 'band'), S(D33B, GREEN, 'dots'), S(D26A, SKY, 'band'), S(D26B, SKY, 'dots'),
  S(D21A, BLUE, 'band'), S(D21B, BLUE, 'dots'), S(D21C, BLUE, 'dots'),
  S(D17BASE, NAVY, 'band'), S(D17A, NAVY, 'dots'), S(D17B, NAVY, 'dots'), S(D17C, NAVY, 'dots'), S(D17TOP, NAVY, 'band'),
  S(D8_FIT, RED, 'fit'), S(D41_FIT, LIME, 'fit'), S(D33_FIT, GREEN, 'fit'), S(D26_FIT, SKY, 'fit'), S(D21_FIT, BLUE, 'fit'), S(D17_FIT, NAVY, 'fit'),
]
const E_SERIES: Series[] = [
  S(E13A, DRED, 'band'), S(E13B, DRED, 'dots'), S(E11A, ORANGE, 'band'), S(E11B, ORANGE, 'band'),
  S(E10A, YELLOW, 'band'), S(E10B, YELLOW, 'dots'), S(E8A, GREEN, 'band'), S(E8B, GREEN, 'band'), S(E8C, GREEN, 'dots'),
  S(E64A, SKY, 'band'), S(E64B, SKY, 'band'), S(E64C, SKY, 'dots'), S(E64_FIT, SKY, 'fit'),
]

const TOP = 20

type PanelProps = {
  box: [number, number, number, number]
  xMax: number
  xTicks: number[]
  series: Series[]
  dark?: boolean
  dotR: number
  bandW: number
  dotW: number
  xlOff: number
}

function Kinetics({ box, xMax, xTicks, series, dark, dotR, bandW, dotW, xlOff }: PanelProps) {
  const [x0, y0, x1, y1] = box
  const pw = x1 - x0
  const ph = y1 - y0
  const zeroY = TOP + (ph * 1.1) / 1.2
  const axisColor = dark ? '#3d3d3d' : '#d2d2d2'
  const items: React.ReactNode[] = []
  series.forEach((s, i) => {
    const data = s.pts.map(([t, v]) => ({ t, v }))
    if (s.kind === 'scatter') {
      items.push(
        <Scatter
          key={'s' + i}
          data={data}
          fill={s.color}
          isAnimationActive={false}
          shape={(p: any) => <circle cx={p.cx} cy={p.cy} r={dotR} fill={s.color} />}
        />
      )
      return
    }
    const w = s.kind === 'fit' ? 2.4 : s.kind === 'band' ? bandW : dotW
    const dash = s.kind === 'band' ? '0 5' : s.kind === 'dots' ? '0 13' : undefined
    items.push(
      <Line
        key={'l' + i}
        data={data}
        dataKey="v"
        type="monotone"
        stroke={s.color}
        strokeWidth={w}
        strokeLinecap="round"
        strokeDasharray={dash}
        dot={false}
        activeDot={false}
        isAnimationActive={false}
      />
    )
    if (s.kind === 'band') {
      // the measured points stand out as bumps on the edge of each band
      items.push(
        <Scatter
          key={'b' + i}
          data={data}
          fill={s.color}
          isAnimationActive={false}
          shape={(p: any) => <circle cx={p.cx} cy={p.cy} r={bandW / 2 + 1.5} fill={s.color} />}
        />
      )
    }
  })
  return (
    <div style={{ position: 'absolute', left: x0 - 60, top: y0 - TOP }}>
      <ComposedChart width={pw + 70} height={ph + TOP + 50} margin={{ top: TOP, right: 10, bottom: 0, left: 0 }}>
        <XAxis
          type="number"
          dataKey="t"
          domain={[0, xMax]}
          ticks={xTicks}
          height={50}
          axisLine={false}
          tickLine={false}
          interval={0}
          tick={(p: any) => (
            <text x={p.x} y={zeroY + xlOff} textAnchor="middle" fontSize={18} fill="#3a3a3a" fontFamily={SANS}>
              {p.payload.value}
            </text>
          )}
        />
        <YAxis
          type="number"
          dataKey="v"
          domain={[-0.1, 1.1]}
          ticks={Y_TICKS}
          width={60}
          interval={0}
          tickSize={0}
          tickMargin={20}
          tickLine={false}
          axisLine={{ stroke: axisColor, strokeWidth: dark ? 2 : 1.2 }}
          tick={{ fontSize: 18, fill: '#3a3a3a', fontFamily: SANS }}
          tickFormatter={(v: number) => v.toFixed(1)}
        />
        <ReferenceLine y={0} stroke={axisColor} strokeWidth={dark ? 2.2 : 1.2} />
        {items}
      </ComposedChart>
    </div>
  )
}

function halfData(c: number[], h: number[], err: (Pt | null)[]) {
  return c.map((x, i) => {
    const e = err[i]
    return { c: x, h: h[i], e: e ? [h[i] - e[0], e[1] - h[i]] : [0, 0] }
  })
}

function HalfTimes() {
  const x0 = 988, y0 = 1129, x1 = 1700, y1 = 1588
  const pw = x1 - x0
  const ph = y1 - y0
  const groups = [
    { d: halfData(S8E_C, S8E_H, S8E_ERR), fit: S8E_FIT, color: F_COLORS[0] },
    { d: halfData(S8Q_C, S8Q_H, S8Q_ERR), fit: S8Q_FIT, color: F_COLORS[1] },
    { d: halfData(S26E_C, S26E_H, S26E_ERR), fit: S26E_FIT, color: F_COLORS[2] },
    { d: halfData(S26Q_C, S26Q_H, S26Q_ERR), fit: S26Q_FIT, color: F_COLORS[3] },
    { d: halfData(WT_C, WT_H, WT_ERR), fit: WT_FIT, color: F_COLORS[4] },
  ]
  return (
    <div style={{ position: 'absolute', left: x0 - 60, top: y0 - TOP }}>
      <ComposedChart width={pw + 60} height={ph + TOP + 50} margin={{ top: TOP, right: 0, bottom: 0, left: 0 }}>
        <XAxis
          type="number"
          dataKey="c"
          scale="log"
          domain={[2, 15]}
          ticks={[2, 4, 10]}
          interval={0}
          allowDataOverflow
          height={50}
          tickLine={false}
          axisLine={{ stroke: '#333', strokeWidth: 2 }}
          tick={(p: any) => (
            <text x={p.x} y={TOP + ph + 31} textAnchor="middle" fontSize={17} fill="#3a3a3a" fontFamily={SANS}>
              {p.payload.value}
            </text>
          )}
        />
        <YAxis
          type="number"
          dataKey="h"
          scale="log"
          domain={[0.3, 10]}
          ticks={[0.3, 3]}
          interval={0}
          allowDataOverflow
          width={60}
          tickSize={0}
          tickMargin={21}
          tickLine={false}
          axisLine={{ stroke: '#333', strokeWidth: 2 }}
          tick={{ fontSize: 17, fill: '#3a3a3a', fontFamily: SANS }}
        />
        {groups.map((g, i) => (
          <Line
            key={'f' + i}
            data={g.fit.map(([c, h]) => ({ c, h }))}
            dataKey="h"
            type="linear"
            stroke={g.color}
            strokeWidth={3}
            dot={false}
            activeDot={false}
            isAnimationActive={false}
          />
        ))}
        {groups.map((g, i) => (
          <Scatter
            key={'s' + i}
            data={g.d}
            fill={g.color}
            isAnimationActive={false}
            shape={(p: any) => <circle cx={p.cx} cy={p.cy} r={6.5} fill={g.color} />}
          >
            <ErrorBar dataKey="e" direction="y" width={8} stroke="#6e6e6e" strokeWidth={1.5} />
          </Scatter>
        ))}
      </ComposedChart>
    </div>
  )
}

type Leg = { mx: number; tx: number; y: number; dy: number; names: string[]; colors: string[] }
const LEGENDS: Leg[] = [
  { mx: 697, tx: 719, y: 321.6, dy: 24.8, names: A_NAMES, colors: A_COLORS },
  { mx: 694, tx: 718, y: 827.8, dy: 26.95, names: B_NAMES, colors: B_COLORS },
  { mx: 709.6, tx: 733, y: 1344, dy: 25.4, names: C_NAMES, colors: C_COLORS },
  { mx: 1575, tx: 1600, y: 217.7, dy: 25.4, names: D_NAMES, colors: D_COLORS },
  { mx: 1596, tx: 1619, y: 909.5, dy: 24.1, names: E_NAMES, colors: E_COLORS },
  { mx: 1031, tx: 1054.6, y: 1471.5, dy: 25.5, names: F_NAMES, colors: F_COLORS },
]

const LETTERS: [string, number, number][] = [['A', 3, 30], ['B', 12, 571], ['C', 12, 1113], ['D', 869, 28], ['E', 882, 574], ['F', 884, 1149]]
const TITLES: [string, number, number][] = [['S8Q', 117, 31], ['S8E', 119, 571], ['wt', 117, 1113], ['S26Q', 996, 30], ['S26E', 1000, 574]]
const YTITLES: [string, number, number][] = [
  ['normalized fluorescence intensity', 31, 248],
  ['normalized fluorescence intensity', 41, 791],
  ['normalized fluorescence intensity', 38.5, 1358],
  ['normalized fluorescence intensity', 915, 278],
  ['normalized fluorescence intensity', 921.5, 796],
  ['half time / h', 937, 1342],
]
const XTITLES: [string, number, number][] = [
  ['time / h', 441, 540], ['time / h', 450, 1082], ['time / h', 455, 1614],
  ['time / h', 1325, 533], ['time / h', 1333, 1089],
]
const GAMMA_POS: [number, number, number][] = [[1530, 1176, 13], [1368, 1306, 15], [1420, 1362, 9], [1363, 1404, 22], [1367, 1440, 21]]

function Overlay() {
  return (
    <svg width={1701} height={1630} style={{ position: 'absolute', left: 0, top: 0, pointerEvents: 'none' }}>
      {LETTERS.map(([s, x, y]) => (
        <text key={s} x={x} y={y} fontSize={28} fontFamily='"Liberation Sans", Arial, sans-serif' fill="#111">{s}</text>
      ))}
      {TITLES.map(([s, x, y]) => (
        <text key={s} x={x} y={y} fontSize={28} fontFamily={SANS} fill="#111">{s}</text>
      ))}
      {YTITLES.map(([s, x, y], i) => (
        <text key={i} x={x} y={y} transform={`rotate(-90 ${x} ${y})`} textAnchor="middle" dominantBaseline="central" fontSize={20.5} fontFamily={WIDE} fill="#111">{s}</text>
      ))}
      {XTITLES.map(([s, x, y], i) => (
        <text key={i} x={x} y={y} textAnchor="middle" fontSize={23} fontFamily={SANS} fill="#111">{s}</text>
      ))}
      <text x={1376} y={1623} textAnchor="middle" fontSize={24} fontFamily={SANS} fill="#111">[monomer] / μM</text>
      {LEGENDS.map((l, i) => (
        <g key={i}>
          {l.names.map((n, j) => (
            <g key={j}>
              <circle cx={l.mx} cy={l.y + j * l.dy} r={6} fill={l.colors[j]} />
              <text x={l.tx} y={l.y + j * l.dy + 7} fontSize={20} fontFamily={SANS} fill="#3a3a3a">{n}</text>
            </g>
          ))}
        </g>
      ))}
      {GAMMA_POS.map(([x, y, a], i) => (
        <text key={i} x={x} y={y} transform={`rotate(${a} ${x} ${y})`} textAnchor="middle" dominantBaseline="central" fontSize={21} fontFamily={SANS} fill="#111">
          <tspan fontStyle="italic">γ</tspan> = {GAMMAS[i]}
        </text>
      ))}
    </svg>
  )
}

export default function App() {
  return (
    <div style={{ position: 'absolute', left: 0, top: 0, width: 1701, height: 1630, background: '#fff', overflow: 'hidden' }}>
      <Kinetics box={[101, 57, 783, 511]} xMax={5} xTicks={[0, 1, 2, 3, 4, 5]} series={A_SERIES} dotR={6.5} bandW={12} dotW={10} xlOff={32} />
      <Kinetics box={[112, 603, 789, 1052]} xMax={6} xTicks={[0, 1, 2, 3, 4, 5, 6]} series={B_SERIES} dotR={6.5} bandW={12} dotW={10} xlOff={32} />
      <Kinetics box={[111, 1130, 800, 1586]} xMax={6} xTicks={[0, 1, 2, 3, 4, 5, 6]} series={C_SERIES} dark dotR={6.5} bandW={14} dotW={11} xlOff={32} />
      <Kinetics box={[986, 55, 1668, 502]} xMax={13} xTicks={[0, 2, 4, 6, 8, 10, 12]} series={D_SERIES} dotR={5.5} bandW={11} dotW={10} xlOff={30} />
      <Kinetics box={[992, 603, 1673, 1060]} xMax={12} xTicks={[0, 2, 4, 6, 8, 10, 12]} series={E_SERIES} dotR={5.5} bandW={11} dotW={10} xlOff={32} />
      <HalfTimes />
      <Overlay />
    </div>
  )
}
